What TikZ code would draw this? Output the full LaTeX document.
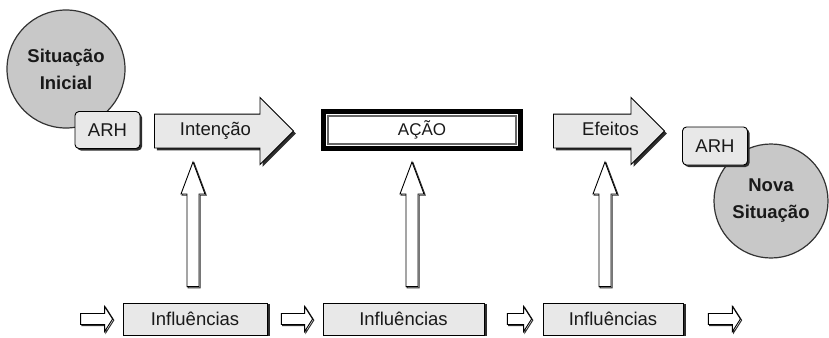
\documentclass[tikz,border=0pt]{standalone}
\usepackage{fontspec}
\setmainfont{Liberation Sans}
\usetikzlibrary{shapes.arrows,shadows,calc}

\definecolor{circgray}{RGB}{200,200,200}
\definecolor{boxgray}{RGB}{232,232,232}
\definecolor{shadowgray}{RGB}{45,45,45}

\tikzset{
  txt/.style={font=\fontsize{18.5}{26}\selectfont, text=black!90},
  situacao/.style={circle, draw=black!80, line width=1.2pt, fill=circgray,
    minimum size=#1, inner sep=0pt, align=center, text=black!90,
    font=\fontsize{18.5}{27}\selectfont\bfseries},
  arhbox/.style={txt, rectangle, rounded corners=4pt, draw=black, line width=0.9pt,
    fill=boxgray, minimum width=65pt, minimum height=37pt,
    general shadow={fill=shadowgray, shadow xshift=2pt, shadow yshift=-2pt}},
  bigarrow/.style={txt, single arrow, draw=black, line width=0.9pt, fill=boxgray,
    single arrow head extend=16.5pt, minimum height=#1, text height=13pt,
    text depth=4pt, inner ysep=8pt, anchor=tail,
    general shadow={fill=shadowgray, shadow xshift=2.5pt, shadow yshift=-2.5pt}},
  acaobox/.style={rectangle, draw=black, line width=5pt, fill=white,
    minimum width=197pt, minimum height=37pt, text=black!90,
    font=\fontsize{17}{20}\selectfont},
  inflbox/.style={txt, rectangle, draw=black, line width=0.8pt, fill=boxgray,
    minimum width=#1, minimum height=32pt,
    general shadow={fill=shadowgray, shadow xshift=2.5pt, shadow yshift=-1pt}},
  hollow/.style={draw=black, line width=0.9pt, fill=white, line join=miter,
    preaction={draw=shadowgray, line width=1pt, transform canvas={shift={(1.2pt,-1.2pt)}}}},
}

% hollow block arrow: start, end, half shaft, half head, head length
\newcommand{\hollowarrow}[5]{%
  \coordinate (hb) at ($(#2)!#5!(#1)$);
  \draw[hollow] ($(#1)!#3!90:(#2)$) -- ($(hb)!#3!90:(#2)$) -- ($(hb)!#4!90:(#2)$)
    -- (#2) -- ($(hb)!#4!-90:(#2)$) -- ($(hb)!#3!-90:(#2)$) -- ($(#1)!#3!-90:(#2)$) -- cycle;
}

\begin{document}
\begin{tikzpicture}[x=1pt,y=-1pt]
  \useasboundingbox (0,0) rectangle (829,337);

  % top row
  \node[situacao=118pt] (sitini) at (66,69) {Situação\\Inicial};
  \node[arhbox] (arh1) at (107.5,130) {ARH};
  \node[bigarrow=139pt] (intencao) at (154,131) {Intenção};
  \node[acaobox] (acao) at (422,130) {AÇÃO};
  \draw[black!60, line width=1.1pt] ([xshift=7pt,yshift=-7pt]acao.north west)
    rectangle ([xshift=-7pt,yshift=7pt]acao.south east);
  \node[bigarrow=111pt] (efeitos) at (553,131) {\hspace*{20pt}Efeitos};
  \node[situacao=114pt] (novasit) at (771,201) {Nova\\Situação};
  \node[arhbox, minimum height=38pt] (arh2) at (715,146) {ARH};

  % influences
  \node[inflbox=144pt] (infl1) at (195,319) {Influências};
  \node[inflbox=161pt] (infl2) at (403.5,319) {Influências};
  \node[inflbox=140pt] (infl3) at (613,319) {Influências};

  % upward arrows
  \coordinate (up1) at ([xshift=-2pt,yshift=16pt]infl1.north);
  \coordinate (up2) at ([xshift=8.5pt,yshift=16pt]infl2.north);
  \coordinate (up3) at ([xshift=-8pt,yshift=16pt]infl3.north);
  \coordinate (tip1) at (193,162);
  \coordinate (tip2) at (412,162);
  \coordinate (tip3) at (605,162);
  \hollowarrow{up1}{tip1}{6pt}{12pt}{32pt}
  \hollowarrow{up2}{tip2}{6pt}{12pt}{32pt}
  \hollowarrow{up3}{tip3}{6pt}{12pt}{32pt}

  % small arrows along the bottom
  \coordinate (h0a) at ([xshift=-42pt]infl1.west);
  \coordinate (h0b) at ([xshift=-10pt]infl1.west);
  \coordinate (h1a) at ([xshift=14pt]infl1.east);
  \coordinate (h1b) at ([xshift=-10pt]infl2.west);
  \coordinate (h2a) at ([xshift=23pt]infl2.east);
  \coordinate (h2b) at ([xshift=-11pt]infl3.west);
  \coordinate (h3a) at ([xshift=25pt]infl3.east);
  \coordinate (h3b) at ([xshift=57pt]infl3.east);
  \hollowarrow{h0a}{h0b}{5.5pt}{12.5pt}{8pt}
  \hollowarrow{h1a}{h1b}{5.5pt}{12.5pt}{8pt}
  \hollowarrow{h2a}{h2b}{5.5pt}{12.5pt}{8pt}
  \hollowarrow{h3a}{h3b}{5.5pt}{12.5pt}{8pt}
\end{tikzpicture}
\end{document}
